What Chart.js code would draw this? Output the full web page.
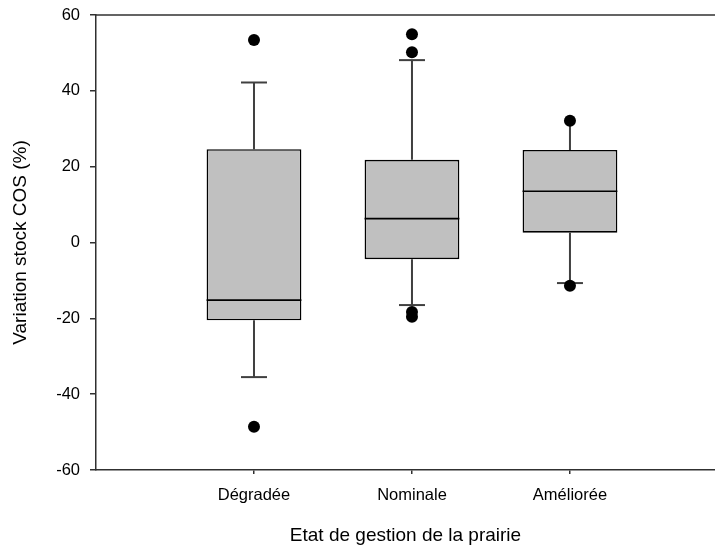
<!DOCTYPE html>
<html>
<head>
<meta charset="utf-8">
<script src="https://cdn.jsdelivr.net/npm/chart.js@4/dist/chart.umd.min.js"></script>
<style>
  html, body { margin: 0; padding: 0; background: #ffffff; }
  #wrap { width: 715px; height: 551px; }
</style>
</head>
<body>
<div id="wrap"><canvas id="chart" width="715" height="551"></canvas></div>
<script>
// Categories and their positions on the x axis
const categories = ['Dégradée', 'Nominale', 'Améliorée'];
const xPositions = [1, 2, 3];

// Box statistics per category (%)
const lowerQuartile = [-20.5, -4.4, 2.6];
const medianValues = [-15.2, 6.3, 13.5];
const upperQuartile = [24.6, 21.8, 24.4];
const whiskerLow = [-35.5, -16.5, -10.7];
const whiskerHigh = [42.2, 48.1, 32.1];
// Caps at the whisker ends (null = no cap)
const capLow = [-35.5, -16.5, -10.7];
const capHigh = [42.2, 48.1, null];

// Outlying observations
const outlierX = [1, 1, 2, 2, 2, 2, 3, 3];
const outlierY = [53.4, -48.6, 54.9, 50.2, -18.3, -19.6, 32.1, -11.4];

// Y axis ticks
const yTicks = [-60, -40, -20, 0, 20, 40, 60];

const AXIS_COLOR = '#303030';
const FONT = 'Arial, "Liberation Sans", Helvetica, sans-serif';

const boxData = xPositions.map((x, i) => ({ x: x, y: [lowerQuartile[i], upperQuartile[i]] }));
const pointData = outlierX.map((x, i) => ({ x: x, y: outlierY[i] }));

// Whiskers, caps, medians and the top frame line
const boxPlotExtras = {
  id: 'boxPlotExtras',
  beforeDatasetsDraw(chart) {
    const { ctx, scales: { x, y } } = chart;
    ctx.save();
    ctx.strokeStyle = '#404040';
    ctx.lineWidth = 2;
    const capHalf = 13;
    xPositions.forEach((xv, i) => {
      const px = x.getPixelForValue(xv);
      ctx.beginPath();
      ctx.moveTo(px, y.getPixelForValue(upperQuartile[i]));
      ctx.lineTo(px, y.getPixelForValue(whiskerHigh[i]));
      ctx.moveTo(px, y.getPixelForValue(lowerQuartile[i]));
      ctx.lineTo(px, y.getPixelForValue(whiskerLow[i]));
      ctx.stroke();
      [capLow[i], capHigh[i]].forEach(c => {
        if (c === null) return;
        const py = y.getPixelForValue(c);
        ctx.beginPath();
        ctx.moveTo(px - capHalf, py);
        ctx.lineTo(px + capHalf, py);
        ctx.stroke();
      });
    });
    ctx.restore();
  },
  afterDatasetDraw(chart, args) {
    if (args.index !== 1) return;
    const { ctx, scales: { y } } = chart;
    const meta = chart.getDatasetMeta(1);
    ctx.save();
    ctx.strokeStyle = '#000000';
    ctx.lineWidth = 1.6;
    meta.data.forEach((bar, i) => {
      const half = bar.width / 2;
      const py = y.getPixelForValue(medianValues[i]);
      ctx.beginPath();
      ctx.moveTo(bar.x - half, py);
      ctx.lineTo(bar.x + half, py);
      ctx.stroke();
    });
    ctx.restore();
  },
  afterDraw(chart) {
    const { ctx, chartArea } = chart;
    ctx.save();
    ctx.strokeStyle = AXIS_COLOR;
    ctx.lineWidth = 1.5;
    ctx.beginPath();
    ctx.moveTo(chartArea.left, chartArea.top);
    ctx.lineTo(chart.width, chartArea.top);
    ctx.stroke();
    ctx.restore();
  }
};

new Chart(document.getElementById('chart'), {
  type: 'bar',
  data: {
    datasets: [
      {
        type: 'scatter',
        label: 'Valeurs extrêmes',
        data: pointData,
        backgroundColor: '#000000',
        borderColor: '#000000',
        pointRadius: 6,
        pointHoverRadius: 6,
        borderWidth: 0
      },
      {
        type: 'bar',
        label: 'Boîtes',
        data: boxData,
        backgroundColor: '#c0c0c0',
        borderColor: '#000000',
        borderWidth: 1.6,
        borderSkipped: false,
        barPercentage: 1,
        categoryPercentage: 0.6
      }
    ]
  },
  options: {
    responsive: false,
    animation: false,
    devicePixelRatio: 1,
    layout: { autoPadding: false, padding: { top: 15, right: 0, left: 0, bottom: 0 } },
    plugins: {
      legend: { display: false },
      tooltip: { enabled: false }
    },
    scales: {
      x: {
        type: 'linear',
        min: 0,
        max: 3.918,
        offset: false,
        afterBuildTicks(scale) {
          scale.ticks = xPositions.map(v => ({ value: v }));
        },
        afterFit(scale) {
          scale.height = 81;
          scale.paddingLeft = 0;
          scale.paddingRight = 0;
        },
        grid: {
          display: true,
          offset: false,
          drawOnChartArea: false,
          drawTicks: true,
          tickLength: 4,
          tickColor: AXIS_COLOR,
          lineWidth: 1.5
        },
        border: { display: true, color: AXIS_COLOR, width: 1.5 },
        ticks: {
          autoSkip: false,
          maxRotation: 0,
          padding: 12,
          color: '#000000',
          font: { family: FONT, size: 16.5 },
          callback(value) {
            const i = xPositions.indexOf(value);
            return i >= 0 ? categories[i] : '';
          }
        },
        title: {
          display: true,
          text: 'Etat de gestion de la prairie',
          color: '#000000',
          font: { family: FONT, size: 19 },
          padding: { top: 0, bottom: 4 }
        }
      },
      y: {
        type: 'linear',
        min: -60,
        max: 60,
        afterBuildTicks(scale) {
          scale.ticks = yTicks.map(v => ({ value: v }));
        },
        afterFit(scale) {
          scale.width = 96;
          scale.paddingTop = 0;
          scale.paddingBottom = 0;
        },
        grid: {
          display: true,
          drawOnChartArea: false,
          drawTicks: true,
          tickLength: 6,
          tickColor: AXIS_COLOR,
          lineWidth: 1.5
        },
        border: { display: true, color: AXIS_COLOR, width: 1.5 },
        ticks: {
          padding: 10,
          color: '#000000',
          font: { family: FONT, size: 16.5 }
        },
        title: {
          display: true,
          text: 'Variation stock COS (%)',
          color: '#000000',
          font: { family: FONT, size: 19 },
          padding: { top: 9, bottom: 0 }
        }
      }
    }
  },
  plugins: [boxPlotExtras]
});
</script>
</body>
</html>
